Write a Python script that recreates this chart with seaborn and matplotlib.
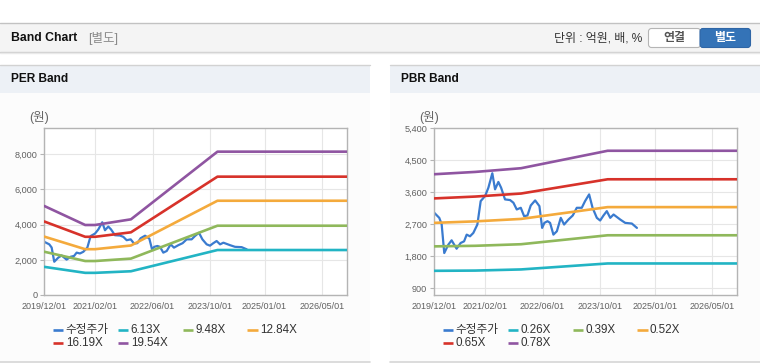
import pandas as pd
import numpy as np
import matplotlib
matplotlib.use('Agg')
import matplotlib.pyplot as plt
from matplotlib.patches import Rectangle, FancyBboxPatch
import seaborn as sns

sns.set_theme(style='white')
plt.rcParams['font.family'] = ['Liberation Sans', 'Noto Sans CJK KR']

# Adjusted price (수정주가)
price_dates = ['2019-12-01', '2020-01-12', '2020-02-01', '2020-02-23', '2020-03-28', '2020-04-25',
               '2020-06-06', '2020-07-10', '2020-08-08', '2020-08-30', '2020-09-27', '2020-10-25',
               '2020-11-28', '2020-12-26', '2021-02-01', '2021-03-01', '2021-04-03', '2021-04-26',
               '2021-05-24', '2021-06-16', '2021-07-19', '2021-08-31', '2021-09-28', '2021-10-26',
               '2021-11-29', '2021-12-27', '2022-01-24', '2022-02-21', '2022-03-30', '2022-05-05',
               '2022-05-28', '2022-06-16', '2022-07-12', '2022-08-03', '2022-08-31', '2022-09-29',
               '2022-11-01', '2022-11-29', '2023-01-05', '2023-02-10', '2023-03-16', '2023-04-27',
               '2023-05-25', '2023-06-28', '2023-07-27', '2023-09-01', '2023-09-29', '2023-10-27',
               '2023-11-24', '2023-12-23', '2024-01-20', '2024-03-16', '2024-04-27', '2024-06-22',
               '2024-08-04']
price_values = [3023, 2881, 2700, 1891, 2126, 2249, 2013, 2174, 2221, 2409, 2362, 2457,
                2693, 3353, 3494, 3730, 4136, 3683, 3891, 3730, 3400, 3381, 3306, 3117,
                3164, 2928, 2947, 3230, 3372, 3211, 2598, 2740, 2787, 2740, 2409, 2504,
                2881, 2693, 2834, 2947, 3164, 3164, 3353, 3541, 3164, 2881, 2806, 2947,
                3070, 2881, 2975, 2834, 2740, 2721, 2598]

# PER bands
per_dates = ['2019-12-01', '2020-11-10', '2021-02-01', '2021-12-01', '2023-12-01', '2026-11-28']
per_labels = ['6.13X', '9.48X', '12.84X', '16.19X', '19.54X']
per_613 = [1600, 1260, 1260, 1350, 2558, 2558]
per_948 = [2460, 1932, 1932, 2070, 3940, 3940]
per_1284 = [3320, 2605, 2605, 2815, 5360, 5360]
per_1619 = [4180, 3310, 3310, 3565, 6730, 6730]
per_1954 = [5062, 3981, 3981, 4303, 8152, 8152]

# PBR bands
pbr_dates = ['2019-12-01', '2020-11-10', '2021-12-01', '2023-12-01', '2026-11-28']
pbr_labels = ['0.26X', '0.39X', '0.52X', '0.65X', '0.78X']
pbr_026 = [1391, 1398, 1430, 1598, 1598]
pbr_039 = [2079, 2095, 2139, 2391, 2391]
pbr_052 = [2740, 2782, 2851, 3183, 3183]
pbr_065 = [3428, 3480, 3565, 3966, 3966]
pbr_078 = [4108, 4173, 4277, 4768, 4768]

per_yticks = [0, 2000, 4000, 6000, 8000]
pbr_yticks = [900, 1800, 2700, 3600, 4500, 5400]
xtick_dates = ['2019-12-01', '2021-02-01', '2022-06-01', '2023-10-01', '2025-01-01', '2026-05-01']

price_color = '#3a7bcf'
band_colors = ['#22b4c4', '#8fb85b', '#f4aa3c', '#d7322a', '#8f55a1']

price_df = pd.DataFrame({'date': pd.to_datetime(price_dates), 'value': price_values})


def band_frame(dates, labels, rows):
    parts = []
    for lab, vals in zip(labels, rows):
        parts.append(pd.DataFrame({'date': pd.to_datetime(dates), 'value': vals, 'series': lab}))
    return pd.concat(parts, ignore_index=True)


per_df = band_frame(per_dates, per_labels, [per_613, per_948, per_1284, per_1619, per_1954])
pbr_df = band_frame(pbr_dates, pbr_labels, [pbr_026, pbr_039, pbr_052, pbr_065, pbr_078])

fig = plt.figure(figsize=(7.6, 3.64), dpi=100)
fig.patch.set_facecolor('white')

# page decoration in pixel coordinates
bg = fig.add_axes([0, 0, 1, 1], zorder=-10)
bg.set_xlim(0, 760)
bg.set_ylim(364, 0)
bg.axis('off')

bg.add_patch(Rectangle((0, 22.5), 760, 29.5, fc='#f4f4f4', ec='none'))
bg.plot([0, 760], [22.5, 22.5], color='#c2c2c2', lw=1)
bg.plot([0, 760], [52.2, 52.2], color='#cfcfcf', lw=1)
bg.plot([0, 760], [53.4, 53.4], color='#e9e9e9', lw=1)
bg.text(11, 38, 'Band Chart', fontsize=8.8, fontweight='bold', color='#111111', va='center')
bg.text(88, 38.5, '[별도]', fontsize=9, color='#8a8a8a', va='center')
bg.text(642, 38.5, '단위 : 억원, 배, %', fontsize=8.6, color='#333333', va='center', ha='right')
bg.add_patch(FancyBboxPatch((648.5, 28.5), 52, 19, boxstyle='round,pad=0,rounding_size=3',
                            fc='white', ec='#b5b5b5', lw=0.8))
bg.add_patch(FancyBboxPatch((700, 28.5), 50.5, 19, boxstyle='round,pad=0,rounding_size=3',
                            fc='#3473b7', ec='#2f66a6', lw=0.8))
bg.text(674.5, 38.3, '연결', fontsize=8.6, fontweight='bold', color='#555555', va='center', ha='center')
bg.text(725.3, 38.3, '별도', fontsize=8.6, fontweight='bold', color='white', va='center', ha='center')

for x0, title in [(0, 'PER Band'), (390, 'PBR Band')]:
    bg.add_patch(Rectangle((x0, 64.5), 370, 28.5, fc='#edf1f6', ec='none'))
    bg.add_patch(Rectangle((x0, 93), 370, 268, fc='#fcfcfc', ec='none'))
    bg.plot([x0, x0 + 370], [64.5, 64.5], color='#d2d2d2', lw=1)
    bg.plot([x0, x0 + 370], [361.5, 361.5], color='#d6d6d6', lw=1.2)
    bg.text(x0 + 11, 79.5, title, fontsize=8.6, fontweight='bold', color='#111111', va='center')
    bg.text(x0 + 39, 117.5, '(원)', fontsize=9, color='#666666', va='center', ha='center')


def draw_panel(ax, band_df, band_labels, yticks, ylim):
    sns.lineplot(data=price_df, x='date', y='value', color=price_color, linewidth=1.6,
                 estimator=None, ax=ax, zorder=2)
    sns.lineplot(data=band_df, x='date', y='value', hue='series', hue_order=band_labels,
                 palette=dict(zip(band_labels, band_colors)), linewidth=1.9,
                 estimator=None, legend=False, ax=ax, zorder=3)
    ax.set_facecolor('white')
    ax.set_xlim(pd.Timestamp('2019-12-01'), pd.Timestamp('2026-11-28'))
    ax.set_ylim(*ylim)
    ax.set_xticks(pd.to_datetime(xtick_dates))
    ax.set_xticklabels([d.replace('-', '/') for d in xtick_dates])
    ax.set_yticks(yticks)
    ax.set_yticklabels([f'{v:,}' for v in yticks])
    ax.grid(True, color='#e6e6e6', lw=0.8)
    ax.set_axisbelow(True)
    for sp in ax.spines.values():
        sp.set_color('#b4b4b4')
        sp.set_linewidth(1)
    ax.tick_params(axis='y', length=3, width=0.8, color='#b4b4b4', pad=2,
                   labelsize=6.6, labelcolor='#606060', left=True)
    ax.tick_params(axis='x', length=0, pad=5, labelsize=6.5, labelcolor='#606060')
    ax.set_xlabel('')
    ax.set_ylabel('')


ax1 = fig.add_axes([44.3 / 760, 69 / 364, 302.7 / 760, 166.7 / 364])
draw_panel(ax1, per_df, per_labels, per_yticks, (0, 9480))
ax2 = fig.add_axes([434.3 / 760, 69 / 364, 303 / 760, 166.7 / 364])
draw_panel(ax2, pbr_df, pbr_labels, pbr_yticks, (711, 5400))

# legends
col_x = [52.7, 117.7, 182.7, 247]
for x0, labels in [(0, per_labels), (390, pbr_labels)]:
    names = ['수정주가'] + labels
    colors = [price_color] + band_colors
    for i, (name, c) in enumerate(zip(names, colors)):
        lx = x0 + col_x[i % 4]
        ly = 330 if i < 4 else 343.3
        bg.plot([lx, lx + 10.6], [ly, ly], color=c, lw=1.9, solid_capstyle='butt')
        bg.text(lx + 13, ly, name, fontsize=8.4, color='#333333', va='center')

fig.savefig('out.png', dpi=100)
